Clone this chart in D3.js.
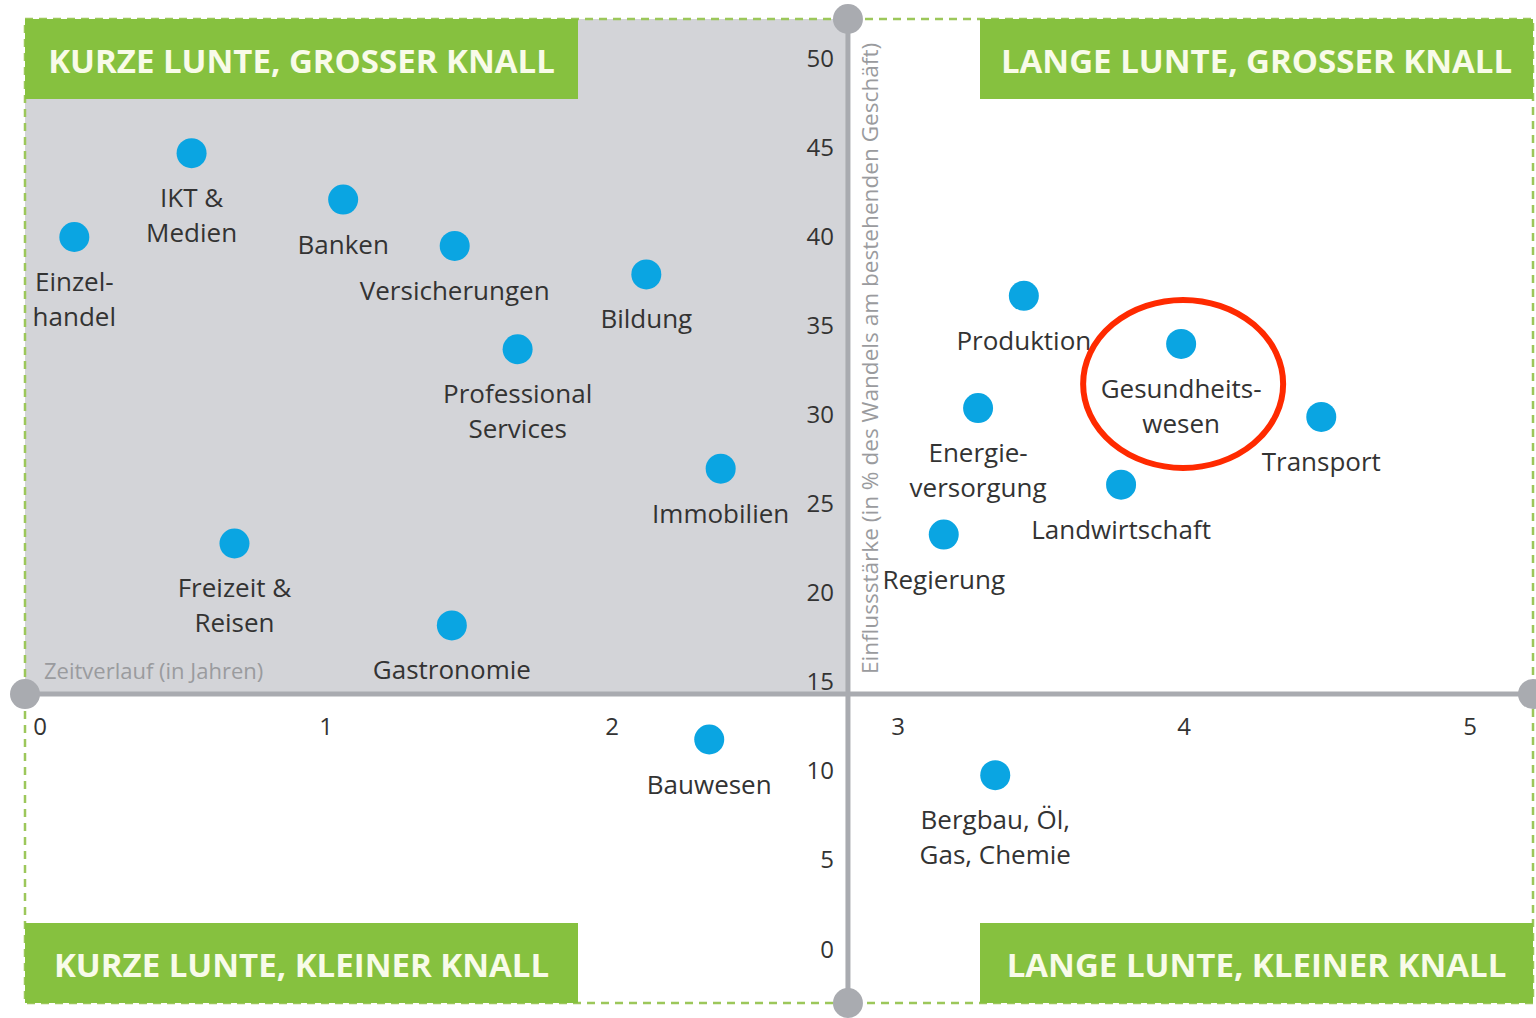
<!DOCTYPE html>
<html>
<head>
<meta charset="utf-8">
<script src="https://cdn.jsdelivr.net/npm/d3@7"></script>
<style>
  body { margin: 0; background: #fff; }
  svg text { font-family: "Open Sans", "Noto Sans", sans-serif; }
</style>
</head>
<body>
<div id="chart"></div>
<script>
// **************** Data ****************
const sectors = [
  ["Einzel-", "handel"],
  ["IKT &", "Medien"],
  ["Banken"],
  ["Versicherungen"],
  ["Bildung"],
  ["Professional", "Services"],
  ["Immobilien"],
  ["Freizeit &", "Reisen"],
  ["Gastronomie"],
  ["Bauwesen"],
  ["Produktion"],
  ["Gesundheits-", "wesen"],
  ["Energie-", "versorgung"],
  ["Transport"],
  ["Landwirtschaft"],
  ["Regierung"],
  ["Bergbau, Öl,", "Gas, Chemie"]
];
// time until disruption (years)
const years = [0.12, 0.53, 1.06, 1.45, 2.12, 1.67, 2.38, 0.68, 1.44, 2.34, 3.44, 3.99, 3.28, 4.48, 3.78, 3.16, 3.34];
// impact (% of change on existing business)
const impact = [39.9, 44.6, 42.0, 39.4, 37.8, 33.6, 26.9, 22.7, 18.1, 11.7, 36.6, 33.9, 30.3, 29.8, 26.0, 23.2, 9.7];

const xTicks = [0, 1, 2, 3, 4, 5];
const yTicks = [0, 5, 10, 15, 20, 25, 30, 35, 40, 45, 50];
const quadrantTitles = [
  "KURZE LUNTE, GROSSER KNALL",
  "LANGE LUNTE, GROSSER KNALL",
  "KURZE LUNTE, KLEINER KNALL",
  "LANGE LUNTE, KLEINER KNALL"
];
const highlighted = "Gesundheits-";

// axis crossing (in data units)
const crossX = 2.825;
const crossY = 14.25;

// **************** Setup ****************
const width = 1536, height = 1018;

const x = d3.scaleLinear().domain([0, 5]).range([40, 1470]);
const y = d3.scaleLinear().domain([0, 50]).range([948, 57]);

const fLeft = 25, fRight = 1533, fTop = 19, fBottom = 1003;
const cx = x(crossX), cy = y(crossY);

const svg = d3.select("#chart").append("svg")
  .attr("width", width)
  .attr("height", height);

// grey quadrant (short fuse, big bang)
svg.append("rect")
  .attr("x", fLeft).attr("y", fTop)
  .attr("width", cx - fLeft).attr("height", cy - fTop)
  .attr("fill", "#d3d4d8");

// dashed frame
svg.append("rect")
  .attr("x", fLeft).attr("y", fTop)
  .attr("width", fRight - fLeft).attr("height", fBottom - fTop)
  .attr("fill", "none")
  .attr("stroke", "#9cc75a")
  .attr("stroke-width", 2.5)
  .attr("stroke-dasharray", "8,6");

// quadrant title boxes
const boxW = 553, boxH = 82;
const boxes = [
  { x: fLeft, y: fTop },
  { x: fRight - boxW, y: fTop },
  { x: fLeft, y: fBottom - boxH + 2 },
  { x: fRight - boxW, y: fBottom - boxH + 2 }
];
svg.selectAll("g.qbox")
  .data(quadrantTitles)
  .enter().append("g")
  .attr("class", "qbox")
  .attr("transform", (d, i) => "translate(" + boxes[i].x + "," + boxes[i].y + ")")
  .each(function (d) {
    const g = d3.select(this);
    g.append("rect")
      .attr("width", boxW).attr("height", boxH - 2)
      .attr("fill", "#86c13f");
    g.append("text")
      .attr("x", boxW / 2).attr("y", (boxH - 2) / 2 + 1)
      .attr("text-anchor", "middle")
      .attr("dominant-baseline", "central")
      .attr("fill", "#f8fbe9")
      .attr("font-size", 33)
      .attr("font-weight", "bold")
      .text(d);
  });

// **************** Axes ****************
const axisColor = "#a9abb0";

svg.append("line")
  .attr("x1", cx).attr("x2", cx)
  .attr("y1", fTop).attr("y2", fBottom)
  .attr("stroke", axisColor).attr("stroke-width", 5);
svg.append("line")
  .attr("x1", fLeft).attr("x2", fRight)
  .attr("y1", cy).attr("y2", cy)
  .attr("stroke", axisColor).attr("stroke-width", 5);

svg.selectAll("circle.end")
  .data([[cx, fTop], [cx, fBottom], [fLeft, cy], [fRight, cy]])
  .enter().append("circle")
  .attr("class", "end")
  .attr("cx", d => d[0]).attr("cy", d => d[1])
  .attr("r", 15)
  .attr("fill", axisColor);

svg.selectAll("text.ytick")
  .data(yTicks)
  .enter().append("text")
  .attr("class", "ytick")
  .attr("x", cx - 14)
  .attr("y", d => y(d))
  .attr("text-anchor", "end")
  .attr("dominant-baseline", "central")
  .attr("font-size", 24)
  .attr("fill", "#333")
  .text(d => d);

svg.selectAll("text.xtick")
  .data(xTicks)
  .enter().append("text")
  .attr("class", "xtick")
  .attr("x", d => x(d))
  .attr("y", cy + 31)
  .attr("text-anchor", "middle")
  .attr("dominant-baseline", "central")
  .attr("font-size", 24)
  .attr("fill", "#333")
  .text(d => d);

svg.append("text")
  .attr("x", 44).attr("y", cy - 24)
  .attr("dominant-baseline", "central")
  .attr("font-size", 22)
  .attr("fill", "#9a9b9e")
  .text("Zeitverlauf (in Jahren)");

svg.append("text")
  .attr("transform", "translate(" + (cx + 22) + "," + (cy - 20) + ") rotate(-90)")
  .attr("dominant-baseline", "central")
  .attr("font-size", 22.6)
  .attr("fill", "#9a9b9e")
  .text("Einflussstärke (in % des Wandels am bestehenden Geschäft)");

// **************** Points ****************
const points = sectors.map((s, i) => ({ lines: s, x: years[i], y: impact[i] }));

svg.selectAll("circle.pt")
  .data(points)
  .enter().append("circle")
  .attr("class", "pt")
  .attr("cx", d => x(d.x))
  .attr("cy", d => y(d.y))
  .attr("r", 15)
  .attr("fill", "#0aa5e2");

const labels = svg.selectAll("text.lbl")
  .data(points)
  .enter().append("text")
  .attr("class", "lbl")
  .attr("text-anchor", "middle")
  .attr("font-size", 26)
  .attr("fill", "#333");

labels.selectAll("tspan")
  .data(d => d.lines.map((t, k) => ({ t: t, k: k, p: d })))
  .enter().append("tspan")
  .attr("x", d => x(d.p.x))
  .attr("y", d => y(d.p.y) + 44 + d.k * 35)
  .attr("dominant-baseline", "central")
  .text(d => d.t);

// red highlight ellipse
const hl = points.find(d => d.lines[0] === highlighted);
svg.append("ellipse")
  .attr("cx", x(hl.x) + 2)
  .attr("cy", y(hl.y) + 40)
  .attr("rx", 100)
  .attr("ry", 84)
  .attr("fill", "none")
  .attr("stroke", "#ff2a00")
  .attr("stroke-width", 6);
</script>
</body>
</html>
